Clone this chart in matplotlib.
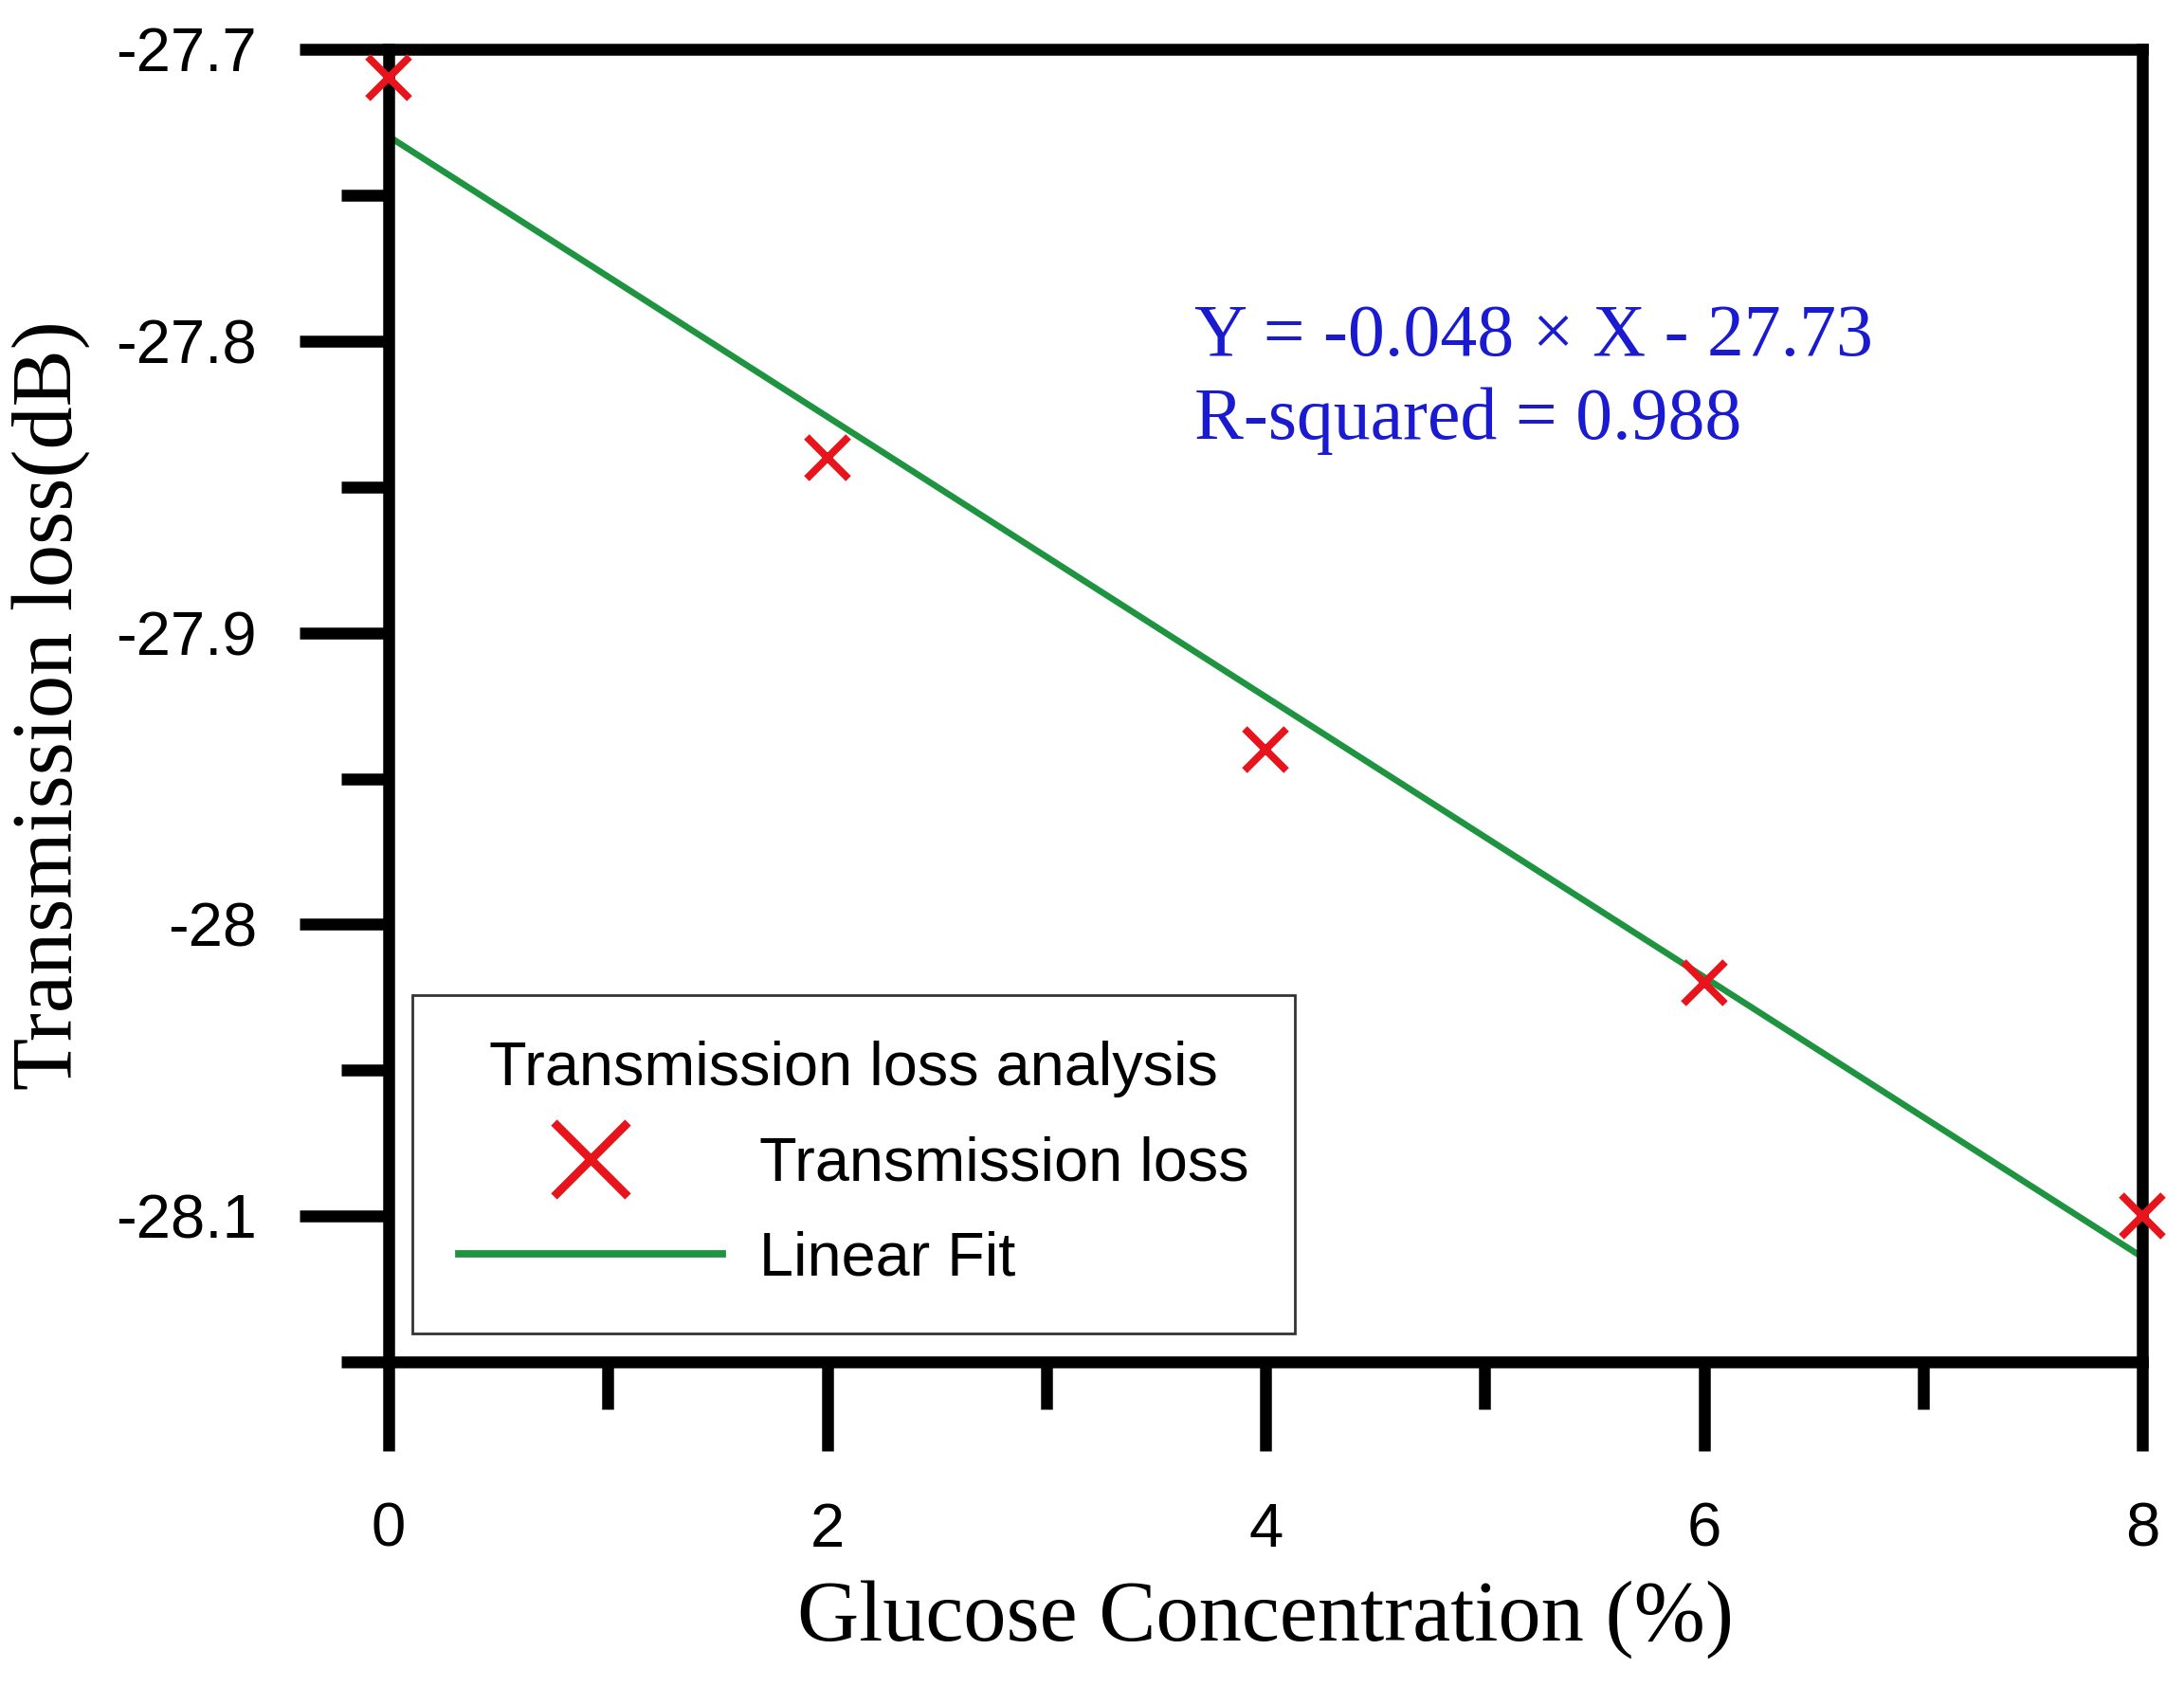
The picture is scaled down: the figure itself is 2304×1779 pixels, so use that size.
import numpy as np
import matplotlib
matplotlib.use("Agg")
import matplotlib.pyplot as plt
from matplotlib.lines import Line2D

# ---- data ----
glucose = [0, 2, 4, 6, 8]
trans_loss = [-27.71, -27.84, -27.94, -28.02, -28.10]
x_ticks = [0, 2, 4, 6, 8]
y_ticks = [-27.7, -27.8, -27.9, -28.0, -28.1]
y_tick_labels = ["-27.7", "-27.8", "-27.9", "-28", "-28.1"]

SANS = "Liberation Sans"
SERIF = "Liberation Serif"
RED = "#e8141c"
GREEN = "#1f9440"
BLUE = "#1a1ad0"

fig = plt.figure(figsize=(11.52, 8.895), dpi=200)
ax = fig.add_axes([0.178, 0.192, 0.803, 0.779])

slope, intercept = np.polyfit(glucose, trans_loss, 1)
pred = np.polyval([slope, intercept], glucose)
ss_res = np.sum((np.array(trans_loss) - pred) ** 2)
ss_tot = np.sum((np.array(trans_loss) - np.mean(trans_loss)) ** 2)
r2 = 1 - ss_res / ss_tot

xfit = np.array([glucose[0], glucose[-1]])
ax.plot(xfit, np.polyval([slope, intercept], xfit), color=GREEN, lw=2.4,
        zorder=3, clip_on=False)
ax.plot(glucose, trans_loss, linestyle="none", marker="x", markersize=15.5,
        markeredgewidth=2.8, color=RED, zorder=5, clip_on=False)

ax.set_xlim(0, 8)
ax.set_ylim(-28.15, -27.7)
ax.set_xticks(x_ticks)
ax.set_xticks([1, 3, 5, 7], minor=True)
ax.set_yticks(y_ticks)
ax.set_yticklabels(y_tick_labels)
ax.set_yticks([-27.75, -27.85, -27.95, -28.05, -28.15], minor=True)

for s in ax.spines.values():
    s.set_linewidth(4.5)
    s.set_zorder(4)
ax.tick_params(which="both", direction="out", width=4.5, top=False, right=False,
               labelsize=23.5)
ax.tick_params(which="major", length=34)
ax.tick_params(which="minor", length=18)
ax.tick_params(axis="y", which="major", pad=16)
ax.tick_params(axis="x", which="major", pad=19)
for lab in ax.get_xticklabels() + ax.get_yticklabels():
    lab.set_fontfamily(SANS)

ax.set_xlabel("Glucose Concentration (%)", fontfamily=SERIF, fontsize=32.5, labelpad=8)
ax.set_ylabel("Transmission loss(dB)", fontfamily=SERIF, fontsize=32.5, labelpad=10)

ax.text(0.4595, 0.767, "Y = %.3f \u00d7 X - %.2f" % (slope, -intercept),
        transform=ax.transAxes, fontfamily=SERIF, fontsize=28, color=BLUE,
        ha="left", va="baseline")
ax.text(0.4595, 0.703, "R-squared = %.3f" % r2,
        transform=ax.transAxes, fontfamily=SERIF, fontsize=28, color=BLUE,
        ha="left", va="baseline")

handles = [
    Line2D([], [], linestyle="none", marker="x", markersize=28,
           markeredgewidth=3.2, color=RED),
    Line2D([], [], color=GREEN, lw=2.8),
]
leg = ax.legend(handles, ["Transmission loss", "Linear Fit"],
                title="Transmission loss analysis",
                loc="lower left", bbox_to_anchor=(0.0135, 0.022),
                borderaxespad=0, frameon=True, fancybox=False,
                edgecolor="#333333", framealpha=1,
                prop={"family": SANS, "size": 23.3},
                title_fontproperties={"family": SANS, "size": 23.3},
                handlelength=4.3, handletextpad=0.6, labelspacing=0.62,
                borderpad=0.75)
leg.get_frame().set_linewidth(1.0)
leg.set_zorder(6)

fig.savefig("out.png", dpi=200)
